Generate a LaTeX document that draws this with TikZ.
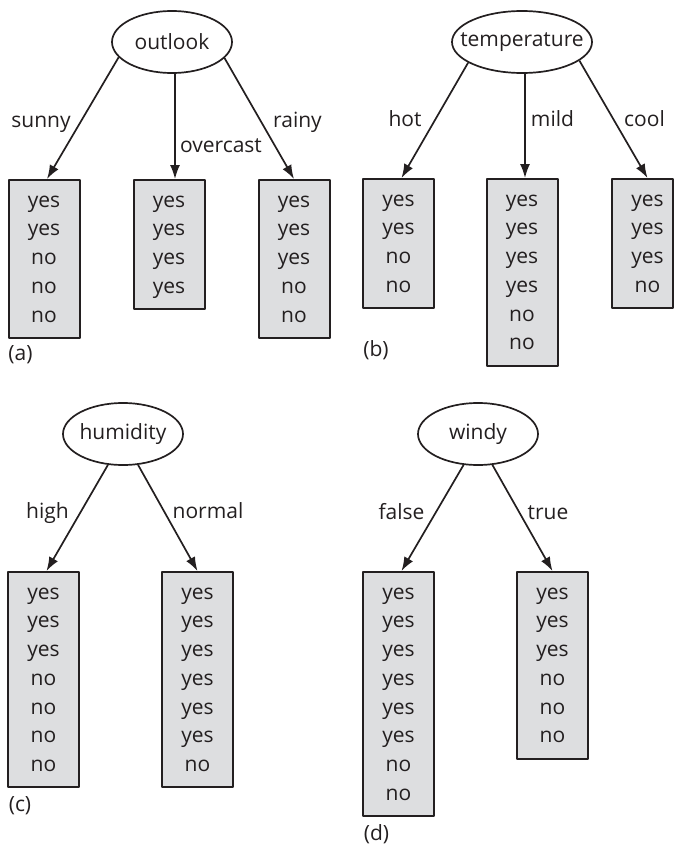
\documentclass[tikz,border=0pt]{standalone}
\usepackage{fontspec}
\setmainfont{Open Sans}
\usetikzlibrary{shapes.geometric,arrows.meta}
\definecolor{leafgray}{RGB}{221,222,224}
\definecolor{ink}{RGB}{35,31,32}
\newcommand{\leafrows}[1]{\begin{tabular}{@{}c@{}}#1\end{tabular}}
\newcommand{\ctr}[1]{\makebox[0pt]{#1}}

\begin{document}
\begin{tikzpicture}[x=1pt, y=-1pt, line join=round, >={Latex[length=14pt,width=10pt]},
    every node/.style={font=\fontsize{21}{28.7}\selectfont, text=ink},
    attr/.style={ellipse, draw=ink, line width=1.7pt, minimum width=120pt, minimum height=62pt, inner sep=0pt},
    leaf/.style={draw=ink, fill=leafgray, line width=2pt, anchor=north, minimum width=71pt, inner xsep=0pt, inner ysep=7.15pt},
    branch/.style={->, draw=ink, line width=1.7pt},
    lab/.style={anchor=base}]
    \useasboundingbox (0,0) rectangle (673,848);

    % (a) outlook
    \node[attr] (outlook) at (172,42) {\ctr{outlook}};
    \node[leaf] (a1) at (44,179) {\leafrows{yes\\yes\\no\\no\\no}};
    \node[leaf] (a2) at (169,179) {\leafrows{yes\\yes\\yes\\yes}};
    \node[leaf] (a3) at (294,179) {\leafrows{yes\\yes\\yes\\no\\no}};
    \draw[branch] (outlook.196) -- ([xshift=3pt]a1.north);
    \draw[branch] ([xshift=3pt]outlook.south) -- ([xshift=3pt]outlook.south |- a2.north);
    \draw[branch] (outlook.343) -- (a3.north);
    \node[lab] (sunny) at (41,128) {sunny};
    \node[lab] (overcast) at (221,152) {overcast};
    \node[lab] (rainy) at (297.5,128) {rainy};
    \node[lab] (pa) at (20.5,360) {(a)};

    % (b) temperature
    \node[attr, minimum width=140pt] (temperature) at (522,42) {\ctr{temperature}};
    \node[leaf] (b1) at (398.5,178) {\leafrows{yes\\yes\\no\\no}};
    \node[leaf] (b2) at (522,178) {\leafrows{yes\\yes\\yes\\yes\\no\\no}};
    \node[leaf, minimum width=61pt] (b3) at (642.5,178) {\hspace*{10pt}\leafrows{yes\\yes\\yes\\no}};
    \draw[branch] (temperature.201) -- ([xshift=3pt]b1.north);
    \draw[branch] ([xshift=3pt]temperature.south) -- ([xshift=3pt]temperature.south |- b2.north);
    \draw[branch] (temperature.342) -- ([xshift=5pt]b3.north);
    \node[lab] (hot) at (405,126) {hot};
    \node[lab] (mild) at (552.5,126) {mild};
    \node[lab] (cool) at (644.5,126) {cool};
    \node[lab] (pb) at (376,356) {(b)};

    % (c) humidity
    \node[attr] (humidity) at (123,434) {\ctr{humidity}};
    \node[leaf] (c1) at (43.5,571) {\leafrows{yes\\yes\\yes\\no\\no\\no\\no}};
    \node[leaf] (c2) at (197.5,571) {\leafrows{yes\\yes\\yes\\yes\\yes\\yes\\no}};
    \draw[branch] (humidity.244) -- ([xshift=3pt]c1.north);
    \draw[branch] (humidity.296) -- (c2.north);
    \node[lab] (high) at (47.5,518) {high};
    \node[lab] (normal) at (208,518) {normal};
    \node[lab] (pc) at (20,811) {(c)};

    % (d) windy
    \node[attr] (windy) at (478,434) {\ctr{windy}};
    \node[leaf] (d1) at (398.5,571) {\leafrows{yes\\yes\\yes\\yes\\yes\\yes\\no\\no}};
    \node[leaf] (d2) at (552.5,571) {\leafrows{yes\\yes\\yes\\no\\no\\no}};
    \draw[branch] (windy.245) -- ([xshift=3pt]d1.north);
    \draw[branch] (windy.295) -- (d2.north);
    \node[lab] (false) at (401.5,519) {false};
    \node[lab] (true) at (548,519) {true};
    \node[lab] (pd) at (376.5,840) {(d)};
\end{tikzpicture}
\end{document}
